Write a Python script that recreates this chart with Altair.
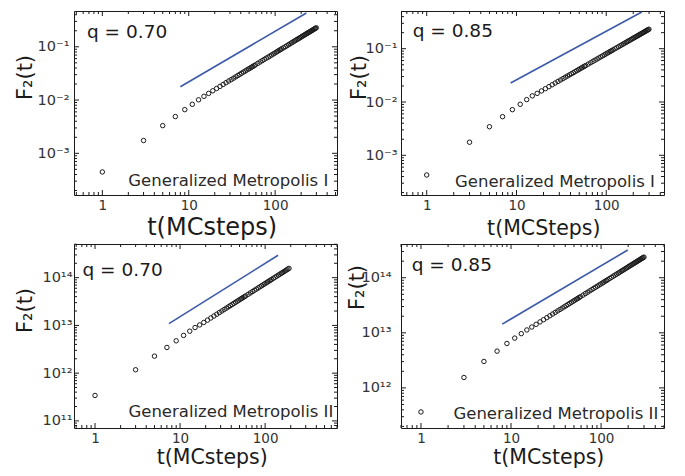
import altair as alt
import pandas as pd

# ---------------- data ----------------
T_LONG = [1, 3, 5, 7, 9, 11, 13, 15, 17, 19,
          21, 23, 25, 27, 29, 31, 33, 35, 37, 39,
          41, 43, 45, 47, 49, 51, 53, 55, 57, 59,
          63, 67, 71, 75, 79, 83, 87, 91, 95, 99,
          103, 107, 111, 115, 119,
          125, 131, 137, 143, 149, 155, 161, 167, 173, 179,
          185, 191, 197, 203, 209, 215, 221, 227, 233, 239,
          245, 251, 257, 263, 269, 275, 281, 287, 293, 299]

T_SHORT = [1, 3, 5, 7, 9, 11, 13, 15, 17, 19,
           21, 23, 25, 27, 29, 31, 33, 35, 37, 39,
           41, 43, 45, 47, 49, 51, 53, 55, 57, 59,
           63, 67, 71, 75, 79, 83, 87, 91, 95, 99,
           103, 107, 111, 115, 119,
           125, 131, 137, 143, 149, 155, 161, 167, 173, 179,
           185, 191]

F_Q070_GM1 = [4.47e-4, 1.74e-3, 3.31e-3, 4.90e-3, 6.61e-3, 8.32e-3, 0.0101, 0.01175, 0.01334, 0.01493,
              0.01649, 0.01806, 0.01963, 0.02120, 0.02277, 0.02418, 0.02574, 0.02730, 0.02886, 0.03042,
              0.03198, 0.03354, 0.03510, 0.03666, 0.03822, 0.03953, 0.04108, 0.04263, 0.04418, 0.04573,
              0.04883, 0.05193, 0.05503, 0.05813, 0.06123, 0.06391, 0.06699, 0.07007, 0.07315, 0.07623,
              0.07931, 0.08239, 0.08547, 0.08855, 0.09163,
              0.09575, 0.1003, 0.1049, 0.1095, 0.1141, 0.1187, 0.1233, 0.1279, 0.1325, 0.1371,
              0.1412, 0.1457, 0.1503, 0.1549, 0.1595, 0.1640, 0.1686, 0.1732, 0.1778, 0.1824,
              0.1862, 0.1908, 0.1953, 0.1999, 0.2044, 0.2090, 0.2136, 0.2181, 0.2227, 0.2272]

F_Q085_GM1 = [4.27e-4, 1.76e-3, 3.44e-3, 5.31e-3, 7.19e-3, 9.06e-3, 0.01109, 0.01303, 0.01452, 0.01614,
              0.01779, 0.01944, 0.02108, 0.02271, 0.02433, 0.02592, 0.02752, 0.02916, 0.03075, 0.03237,
              0.03395, 0.03556, 0.03717, 0.03878, 0.04038, 0.04197, 0.04357, 0.04516, 0.04674, 0.04832,
              0.05147, 0.05461, 0.05779, 0.06090, 0.06407, 0.06715, 0.07030, 0.07344, 0.07657, 0.07970,
              0.08281, 0.08592, 0.08902, 0.09212, 0.09520,
              0.09988, 0.1044, 0.1091, 0.1137, 0.1183, 0.1229, 0.1275, 0.1321, 0.1367, 0.1412,
              0.1458, 0.1503, 0.1548, 0.1594, 0.1639, 0.1683, 0.1730, 0.1775, 0.1820, 0.1867,
              0.1911, 0.1958, 0.2002, 0.2049, 0.2093, 0.2140, 0.2183, 0.2230, 0.2274, 0.2320]

F_Q070_GM2 = [3.41e11, 1.178e12, 2.27e12, 3.45e12, 4.76e12, 6.17e12, 7.57e12, 9.02e12, 1.023e13, 1.153e13,
              1.291e13, 1.431e13, 1.572e13, 1.715e13, 1.859e13, 2.005e13, 2.151e13, 2.299e13, 2.448e13, 2.599e13,
              2.750e13, 2.902e13, 3.055e13, 3.209e13, 3.364e13, 3.519e13, 3.676e13, 3.833e13, 3.990e13, 4.149e13,
              4.468e13, 4.790e13, 5.114e13, 5.441e13, 5.770e13, 6.102e13, 6.435e13, 6.770e13, 7.107e13, 7.446e13,
              7.787e13, 8.129e13, 8.474e13, 8.820e13, 9.167e13,
              9.690e13, 1.0218e14, 1.0749e14, 1.1282e14, 1.1819e14, 1.2358e14, 1.2900e14, 1.3444e14, 1.3991e14, 1.4541e14,
              1.5092e14, 1.5646e14]

F_Q085_GM2 = [3.66e11, 1.545e12, 3.02e12, 4.65e12, 6.41e12, 8.02e12, 9.66e12, 1.127e13, 1.274e13, 1.426e13,
              1.579e13, 1.732e13, 1.886e13, 2.040e13, 2.194e13, 2.349e13, 2.503e13, 2.658e13, 2.813e13, 2.968e13,
              3.124e13, 3.279e13, 3.434e13, 3.590e13, 3.746e13, 3.902e13, 4.058e13, 4.215e13, 4.371e13, 4.527e13,
              4.840e13, 5.154e13, 5.468e13, 5.782e13, 6.096e13, 6.411e13, 6.727e13, 7.042e13, 7.358e13, 7.673e13,
              7.990e13, 8.306e13, 8.623e13, 8.939e13, 9.257e13,
              9.733e13, 1.0209e14, 1.0685e14, 1.1163e14, 1.1640e14, 1.2118e14, 1.2596e14, 1.3075e14, 1.3554e14, 1.4034e14,
              1.4512e14, 1.4993e14, 1.5473e14, 1.5953e14, 1.6434e14, 1.6914e14, 1.7396e14, 1.7877e14, 1.8358e14, 1.8840e14,
              1.9322e14, 1.9805e14, 2.0288e14, 2.0769e14, 2.1253e14, 2.1736e14, 2.2220e14, 2.2703e14, 2.3187e14, 2.3671e14]

# reference (blue) power-law guide lines: end points
LINE_Q070_GM1_T = [8.0, 230.0]
LINE_Q070_GM1_F = [0.0178, 0.43]
LINE_Q085_GM1_T = [8.6, 249.0]
LINE_Q085_GM1_F = [0.0228, 0.49]
LINE_Q070_GM2_T = [7.4, 142.0]
LINE_Q070_GM2_F = [1.09e13, 2.94e14]
LINE_Q085_GM2_T = [8.0, 198.0]
LINE_Q085_GM2_F = [1.44e13, 3.19e14]

# tick labels
X_MAJOR = [1, 10, 100]
X_MAJOR_LABELS = ["1", "10", "100"]
Y_MAJOR_GM1 = [0.001, 0.01, 0.1]
Y_MAJOR_GM1_LABELS = ["10⁻³", "10⁻²", "10⁻¹"]
Y_MAJOR_Q070_GM2 = [1e11, 1e12, 1e13, 1e14]
Y_MAJOR_Q070_GM2_LABELS = ["10¹¹", "10¹²", "10¹³", "10¹⁴"]
Y_MAJOR_Q085_GM2 = [1e12, 1e13, 1e14]
Y_MAJOR_Q085_GM2_LABELS = ["10¹²", "10¹³", "10¹⁴"]

FONT = "DejaVu Sans"
INK = "#1a1a1a"
LABEL = "#333333"
BLUE = "#3d5aa9"
W, H = 263, 184
MAJ, MIN = 5, 3


def minor_ticks(dom):
    lo, hi = dom
    out = []
    for e in range(-6, 16):
        for m in range(2, 10):
            v = m * 10.0 ** e
            if lo <= v <= hi:
                out.append(v)
    return out


def label_expr(vals, labels):
    arr = ",".join("'" + s + "'" for s in labels)
    nums = ",".join(repr(float(v)) for v in vals)
    return "[" + arr + "][indexof([" + nums + "], datum.value)]"


def panel(t, f, lt, lf, xdom, ydom, ymaj, ylab, xtitle, xtitle_size,
          xtx, xty, ytx, yty, ylabpad, qtext, qx, qy, gtext, gx, gy):
    df = pd.DataFrame({"t": t, "F": f})
    ldf = pd.DataFrame({"t": lt, "F": lf})
    xs = alt.Scale(type="log", domain=xdom, nice=False)
    ys = alt.Scale(type="log", domain=ydom, nice=False)

    pts = alt.Chart(df).mark_point(shape="circle", filled=False, size=20, strokeWidth=1,
                                   color=INK, opacity=1).encode(
        x=alt.X("t:Q", scale=xs, title=xtitle,
                axis=alt.Axis(orient="bottom", values=X_MAJOR,
                              labelExpr=label_expr(X_MAJOR, X_MAJOR_LABELS),
                              ticks=False, domain=False, grid=False,
                              labelFont=FONT, labelFontSize=13.5, labelColor=LABEL,
                              labelPadding=3, titleFont=FONT, titleFontSize=xtitle_size,
                              titleFontWeight="normal", titleColor=INK,
                              titleX=xtx, titleY=xty, titleBaseline="alphabetic",
                              titleAlign="center")),
        y=alt.Y("F:Q", scale=ys, title="F₂(t)",
                axis=alt.Axis(orient="left", values=ymaj,
                              labelExpr=label_expr(ymaj, ylab),
                              ticks=False, domain=False, grid=False,
                              labelFont=FONT, labelFontSize=14.5, labelColor=LABEL,
                              labelPadding=ylabpad, titleFont=FONT, titleFontSize=21,
                              titleFontWeight="normal", titleColor=INK,
                              titleX=ytx, titleY=yty, titleBaseline="middle",
                              titleAlign="center")),
    )

    # inward frame ticks (major and minor) on all four sides, positioned by the scales
    xmaj_df = pd.DataFrame({"v": [v for v in X_MAJOR if xdom[0] <= v <= xdom[1]]})
    xmin_df = pd.DataFrame({"v": minor_ticks(xdom)})
    ymaj_df = pd.DataFrame({"v": ymaj})
    ymin_df = pd.DataFrame({"v": minor_ticks(ydom)})

    def xticks(d, size):
        layers = []
        for y0, y1 in ((H, H - size), (0, size)):
            layers.append(alt.Chart(d).mark_rule(color=INK, strokeWidth=1).encode(
                x=alt.X("v:Q", scale=xs, axis=None),
                y=alt.value(y0), y2=alt.value(y1)))
        return layers

    def yticks(d, size):
        layers = []
        for x0, x1 in ((0, size), (W, W - size)):
            layers.append(alt.Chart(d).mark_rule(color=INK, strokeWidth=1).encode(
                y=alt.Y("v:Q", scale=ys, axis=None),
                x=alt.value(x0), x2=alt.value(x1)))
        return layers

    tick_layers = (xticks(xmaj_df, MAJ) + xticks(xmin_df, MIN)
                   + yticks(ymaj_df, MAJ) + yticks(ymin_df, MIN))

    line = alt.Chart(ldf).mark_line(color=BLUE, strokeWidth=1.6).encode(
        x=alt.X("t:Q", scale=xs, axis=None),
        y=alt.Y("F:Q", scale=ys, axis=None),
    )

    one = pd.DataFrame({"k": [0]})
    qt = alt.Chart(one).mark_text(text=qtext, font=FONT, fontSize=18.5, align="left",
                                  baseline="alphabetic", color=INK).encode(
        x=alt.value(qx), y=alt.value(qy))
    gt = alt.Chart(one).mark_text(text=gtext, font=FONT, fontSize=16.5, align="right",
                                  baseline="alphabetic", color="#2a2a2a").encode(
        x=alt.value(gx), y=alt.value(gy))

    return alt.layer(pts, *tick_layers, line, qt, gt).resolve_axis(
        x="independent", y="independent").properties(width=W, height=H)


p1 = panel(T_LONG, F_Q070_GM1, LINE_Q070_GM1_T, LINE_Q070_GM1_F,
           [0.47, 520], [1.65e-4, 0.47], Y_MAJOR_GM1, Y_MAJOR_GM1_LABELS,
           "t(MCsteps)", 24, 137.7, 39, -49, 66, 5,
           "q = 0.70", 13, 27, "Generalized Metropolis I", 254.3, 175)
p2 = panel(T_LONG, F_Q085_GM1, LINE_Q085_GM1_T, LINE_Q085_GM1_F,
           [0.517, 440], [1.8e-4, 0.51], Y_MAJOR_GM1, Y_MAJOR_GM1_LABELS,
           "t(MCSteps)", 20.5, 142.3, 39.5, -42, 66, 4,
           "q = 0.85", 11.7, 26, "Generalized Metropolis I", 254, 175.7)
p3 = panel(T_SHORT, F_Q070_GM2, LINE_Q070_GM2_T, LINE_Q070_GM2_F,
           [0.566, 700], [7.1e10, 5.07e14], Y_MAJOR_Q070_GM2, Y_MAJOR_Q070_GM2_LABELS,
           "t(MCsteps)", 20.5, 137.7, 35, -49, 66, 2,
           "q = 0.70", 8.5, 32, "Generalized Metropolis II", 259.3, 173)
p4 = panel(T_LONG, F_Q085_GM2, LINE_Q085_GM2_T, LINE_Q085_GM2_F,
           [0.6, 500], [1.87e11, 4.1e14], Y_MAJOR_Q085_GM2, Y_MAJOR_Q085_GM2_LABELS,
           "t(MCsteps)", 20.5, 147.3, 35.5, -44, 43, 10,
           "q = 0.85", 10.7, 27, "Generalized Metropolis II", 257.3, 175.3)

chart = alt.concat(p1, p2, p3, p4, columns=2,
                   spacing={"row": 49, "column": 64}, bounds="flush").properties(
    padding={"left": 5, "top": 0, "right": 5, "bottom": 5}
).configure(font=FONT).configure_view(stroke=INK, strokeWidth=1)

chart.save("out.html", embed_options={"renderer": "svg", "actions": False})
